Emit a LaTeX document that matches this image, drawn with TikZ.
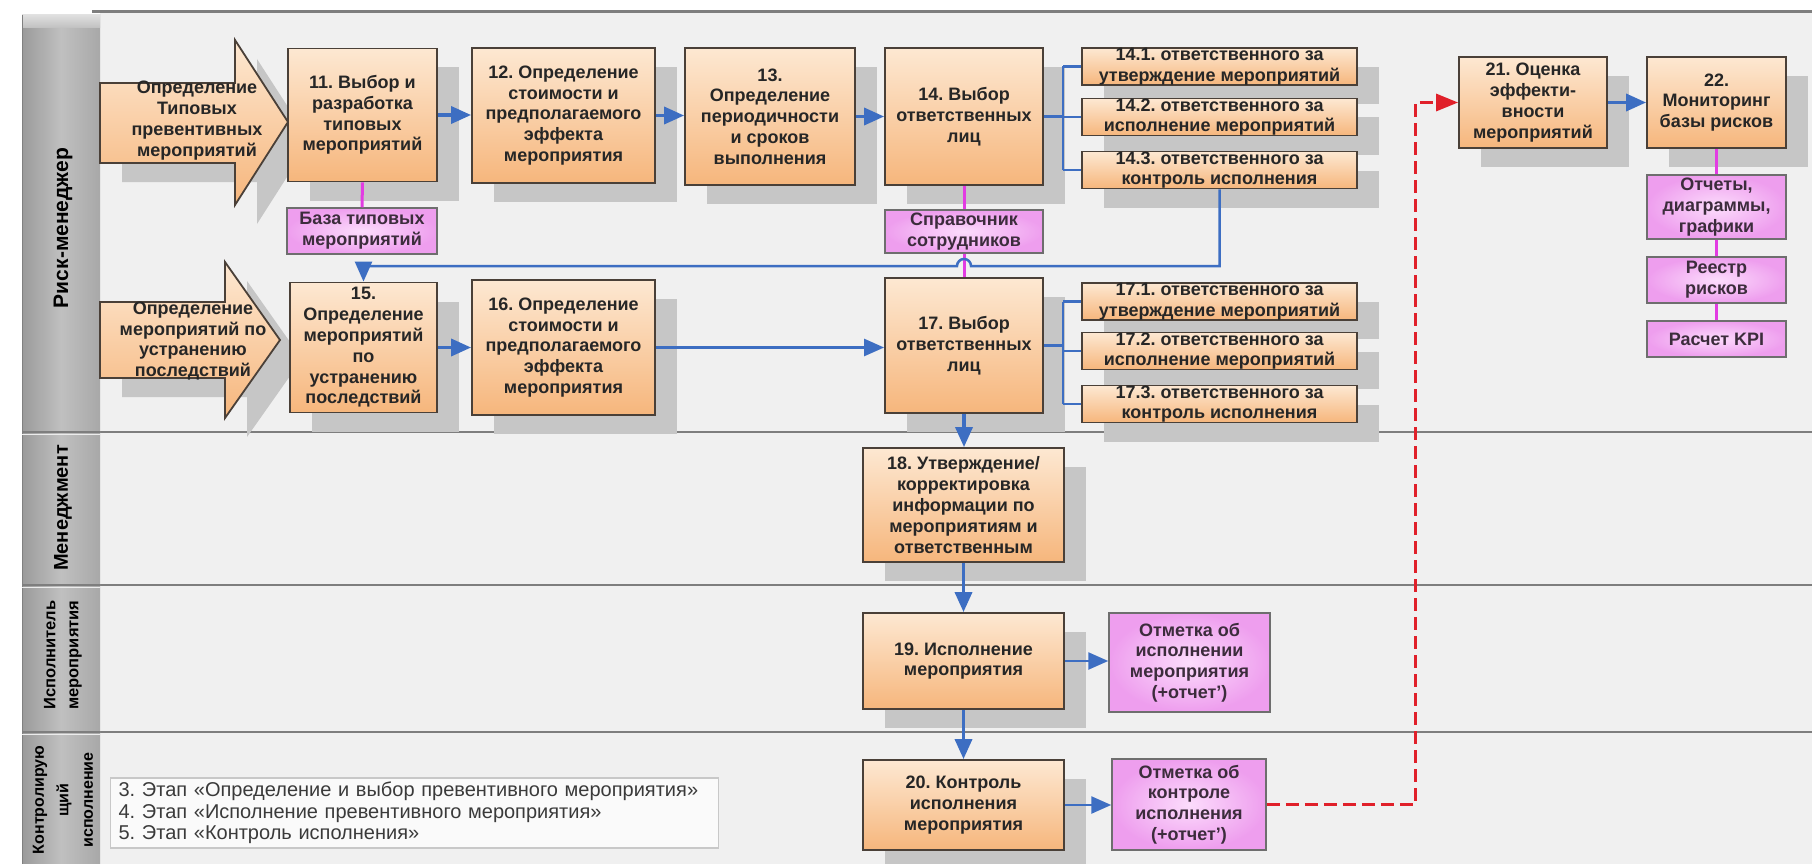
\documentclass[tikz,border=0pt]{standalone}
\usepackage{fontspec}
\setmainfont{Liberation Sans}
\usetikzlibrary{arrows.meta,calc,shadows}

\definecolor{laneBg}{HTML}{F0F0F0}
\definecolor{laneLine}{HTML}{7E7E7E}
\definecolor{hdrDark}{HTML}{9A9A9A}
\definecolor{hdrMid}{HTML}{C0C0C0}
\definecolor{hdrRight}{HTML}{A8A8A8}
\definecolor{orTop}{HTML}{FDE8D2}
\definecolor{orBot}{HTML}{F6B67C}
\definecolor{boxLine}{HTML}{4A4038}
\definecolor{shd}{HTML}{C6C6C6}
\definecolor{pkIn}{HTML}{FCDCFC}
\definecolor{pkOut}{HTML}{EE9EEE}
\definecolor{pkLine}{HTML}{6E6E6E}
\definecolor{pkTxt}{HTML}{3C2C3C}
\definecolor{magC}{HTML}{E23CE2}
\definecolor{flowC}{HTML}{3D6EC2}
\definecolor{redC}{HTML}{E0202A}
\definecolor{txtC}{HTML}{262626}
\definecolor{legLine}{HTML}{C8C8C8}
\definecolor{legTxt}{HTML}{3A3A3A}

\frenchspacing
\newcommand\bxfont{\bfseries\fontsize{18}{20.8}\selectfont}
\newcommand\lgfont{\fontsize{20}{21.5}\selectfont}

\begin{document}
\begin{tikzpicture}[x=1pt,y=-1pt,
  boxshadow/.style={drop shadow={shadow xshift=22pt,shadow yshift=-19pt,fill=shd,opacity=1}},
  obox/.style={draw=boxLine,line width=1.8pt,top color=orTop,bottom color=orBot,
     align=center,font=\bxfont,text=txtC,inner sep=0pt,boxshadow},
  sbox/.style={obox,minimum width=275pt,minimum height=37pt,inner ysep=-3pt},
  pbox/.style={draw=pkLine,line width=1.5pt,inner color=pkIn,outer color=pkOut,
     align=center,font=\bxfont,text=pkTxt,inner sep=0pt},
  flow/.style={draw=flowC,line width=3.5pt,-{Triangle[length=20pt,width=17pt]}},
  flowthin/.style={draw=flowC,line width=2.5pt,-{Triangle[length=20pt,width=17pt]}},
  brk/.style={draw=flowC,line width=2.5pt},
  mag/.style={draw=magC,line width=3pt},
  redflow/.style={draw=redC,line width=3pt,dash pattern=on 13pt off 6pt,-{Triangle[length=22pt,width=17pt]}},
  lanehdr/.style={rotate=90,text=black,align=center},
  bigarrow/.style={draw=boxLine,line width=1.8pt,top color=orTop,bottom color=orBot,boxshadow},
]
\useasboundingbox (0,0) rectangle (1812,864);
\fill[white] (0,0) rectangle (1812,864);

% swimlane area
\fill[laneBg] (100,12) rectangle (1812,864);
\draw[laneLine,line width=3pt] (92,12) -- (1812,12);
\foreach \yy in {432,585,732} \draw[laneLine,line width=2pt] (100,\yy) -- (1812,\yy);

% lane header column
\shade[left color=hdrDark,right color=hdrRight,middle color=hdrMid] (22,15) rectangle (100,864);
\shade[top color=gray!25,bottom color=hdrMid] (22,15) rectangle (100,28);
\draw[gray,line width=1pt] (22,15) -- (22,864);
\foreach \yy in {432,585,732} {
  \draw[laneLine,line width=1.5pt] (22,\yy) -- (100,\yy);
  \draw[white!85!gray,line width=1pt] (22,\yy+2) -- (100,\yy+2);
}
\node[lanehdr,font=\bfseries\fontsize{21}{24}\selectfont] (hRisk) at (63,228) {Риск-менеджер};
\node[lanehdr,font=\bfseries\fontsize{20}{23}\selectfont] (hMgmt) at (63,508) {Менеджмент};
\node[lanehdr,font=\bfseries\fontsize{16.5}{23}\selectfont] (hExec) at (63,655) {Исполнитель\\мероприятия};
\node[lanehdr,font=\bfseries\fontsize{16}{24.5}\selectfont] (hCtrl) at (63,800) {Контролирую\\щий\\исполнение};

% entry arrows
\path[bigarrow] (100,83) -- (235,83) -- (235,40) -- (288,122) -- (235,205) -- (235,163) -- (100,163) -- cycle;
\node[font=\bxfont,text=txtC,align=center] (a1) at (197,120.5) {Определение\\Типовых\\превентивных\\мероприятий};
\path[bigarrow] (100,302) -- (225,302) -- (225,262) -- (280,340) -- (225,418) -- (225,378) -- (100,378) -- cycle;
\node[font=\bxfont,text=txtC,align=center] (a2) at (193,341) {Определение\\мероприятий по\\устранению\\последствий};

% process steps
\node[obox,minimum width=149pt,minimum height=133pt] (b11) at (362.5,115) {11. Выбор и\\разработка\\типовых\\мероприятий};
\node[obox,minimum width=183pt,minimum height=135pt] (b12) at (563.5,115.5) {12. Определение\\стоимости и\\предполагаемого\\эффекта\\мероприятия};
\node[obox,minimum width=170pt,minimum height=137pt] (b13) at (770,116.5) {13.\\Определение\\периодичности\\и сроков\\выполнения};
\node[obox,minimum width=158pt,minimum height=137pt] (b14) at (964,116.5) {14. Выбор\\ответственных\\лиц};
\node[sbox] (s141) at (1219.5,66.5) {14.1. ответственного за\\утверждение мероприятий};
\node[sbox] (s142) at (1219.5,117) {14.2. ответственного за\\исполнение мероприятий};
\node[sbox] (s143) at (1219.5,170) {14.3. ответственного за\\контроль исполнения};

\node[pbox,minimum width=150pt,minimum height=46pt] (baza) at (362,231) {База типовых\\мероприятий};
\node[pbox,minimum width=158pt,minimum height=43pt] (sprav) at (964,231.5) {Справочник\\сотрудников};

\node[obox,minimum width=147pt,minimum height=130pt] (b15) at (363.5,347.5) {15.\\Определение\\мероприятий\\по\\устранению\\последствий};
\node[obox,minimum width=183pt,minimum height=135pt] (b16) at (563.5,347.5) {16. Определение\\стоимости и\\предполагаемого\\эффекта\\мероприятия};
\node[obox,minimum width=158pt,minimum height=135pt] (b17) at (964,345.5) {17. Выбор\\ответственных\\лиц};
\node[sbox] (s171) at (1219.5,301.5) {17.1. ответственного за\\утверждение мероприятий};
\node[sbox] (s172) at (1219.5,351) {17.2. ответственного за\\исполнение мероприятий};
\node[sbox] (s173) at (1219.5,404) {17.3. ответственного за\\контроль исполнения};

\node[obox,minimum width=201pt,minimum height=114pt] (b18) at (963.5,505) {18. Утверждение/\\корректировка\\информации по\\мероприятиям и\\ответственным};
\node[obox,minimum width=201pt,minimum height=96pt] (b19) at (963.5,661) {19. Исполнение\\мероприятия};
\node[pbox,minimum width=161pt,minimum height=99pt] (p19) at (1189.5,662.5) {Отметка об\\исполнении\\мероприятия\\(+отчет’)};
\node[obox,minimum width=201pt,minimum height=90pt] (b20) at (963.5,805) {20. Контроль\\исполнения\\мероприятия};
\node[pbox,minimum width=154pt,minimum height=91pt] (p20) at (1189,804.5) {Отметка об\\контроле\\исполнения\\(+отчет’)};

\node[obox,minimum width=148pt,minimum height=91pt] (b21) at (1533,102.5) {21. Оценка\\эффекти-\\вности\\мероприятий};
\node[obox,minimum width=139pt,minimum height=91pt] (b22) at (1716.5,102.5) {22.\\Мониторинг\\базы рисков};
\node[pbox,minimum width=139pt,minimum height=64pt] (rep) at (1716.5,207) {Отчеты,\\диаграммы,\\графики};
\node[pbox,minimum width=139pt,minimum height=46pt] (reg) at (1716.5,280) {Реестр\\рисков};
\node[pbox,minimum width=139pt,minimum height=36pt] (kpi) at (1716.5,339) {Расчет KPI};

% legend
\node[draw=legLine,line width=1.2pt,fill=white!96!gray,anchor=west,text width=592pt,
      inner xsep=8pt,minimum height=70pt,align=left,font=\lgfont,text=legTxt] (legend) at (110,813)
  {3. Этап «Определение и выбор превентивного мероприятия»\\4. Этап «Исполнение превентивного мероприятия»\\5. Этап «Контроль исполнения»};

% helper coordinates for routed connectors
\coordinate (bx) at (1063,0);
\coordinate (jy) at (0,266);
\coordinate (redx) at (1415,0);

% data links
\draw[mag] (b11.south) -- (baza.north);
\draw[mag] (b14.south) -- (sprav.north);
\draw[mag] (sprav.south) -- (b17.north);
\draw[mag] (b22.south) -- (rep.north);
\draw[mag] (rep.south) -- (reg.north);
\draw[mag] (reg.south) -- (kpi.north);

% process flow
\draw[flow] (b11.east) -- (b11.east -| b12.west);
\draw[flow] (b12.east) -- (b12.east -| b13.west);
\draw[flow] (b13.east) -- (b13.east -| b14.west);
\draw[brk] (b14.east) -- (b14.east -| bx)
  (s141.west -| bx) -- (s143.west -| bx)
  (s141.west -| bx) -- (s141.west)
  (s142.west -| bx) -- (s142.west)
  (s143.west -| bx) -- (s143.west);
\draw[flowthin] (s143.south) -- (s143.south |- jy) -- ($(sprav.south |- jy)+(7,0)$)
  arc[start angle=0,end angle=-180,radius=7] -- (b15.north |- jy) -- (b15.north);
\draw[flow] (b15.east) -- (b15.east -| b16.west);
\draw[flowthin] (b16.east) -- (b16.east -| b17.west);
\draw[brk] (b17.east) -- (b17.east -| bx)
  (s171.west -| bx) -- (s173.west -| bx)
  (s171.west -| bx) -- (s171.west)
  (s172.west -| bx) -- (s172.west)
  (s173.west -| bx) -- (s173.west);
\draw[flow] (b17.south) -- (b17.south |- b18.north);
\draw[flow] (b18.south) -- (b18.south |- b19.north);
\draw[flow] (b19.south) -- (b19.south |- b20.north);
\draw[flowthin] (b19.east) -- (b19.east -| p19.west);
\draw[flowthin] (b20.east) -- (b20.east -| p20.west);
\draw[redflow] (p20.east) -- (p20.east -| redx) |- (b21.west);
\draw[flow] (b21.east) -- (b21.east -| b22.west);
\end{tikzpicture}
\end{document}
